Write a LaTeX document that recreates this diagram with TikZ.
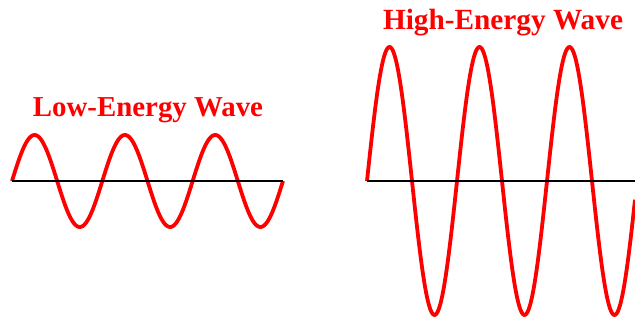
\documentclass[tikz,border=0pt]{standalone}
\usepackage{fontspec}
\setmainfont{Liberation Serif}
\begin{document}
\begin{tikzpicture}[x=1pt,y=-1pt,
  wave/.style={draw=red,line width=3.8pt,line join=round},
  axisline/.style={draw=black,line width=1.6pt},
  title/.style={text=red,font=\bfseries\fontsize{26}{28}\selectfont,anchor=base,inner sep=0pt}]
\useasboundingbox (0,0) rectangle (635,320);
% left
\coordinate (la) at (12,181);
\coordinate (lb) at (283,181);
\draw[wave] plot[domain=0:271,samples=240] ({12+\x},{181-46*sin(\x/90.333*360)});
\draw[axisline] (la) -- (lb);
\node[title] (lt) at (148,117) {\resizebox{230pt}{!}{Low-Energy Wave}};
% right
\coordinate (ra) at (367,181);
\coordinate (rb) at (635,181);
\draw[wave] plot[domain=0:268,samples=300] ({367+\x},{181-134*sin(\x/90*360)});
\draw[axisline] (ra) -- (rb);
\node[title] (rt) at (503,30) {\resizebox{240pt}{!}{High-Energy Wave}};
\end{tikzpicture}
\end{document}
